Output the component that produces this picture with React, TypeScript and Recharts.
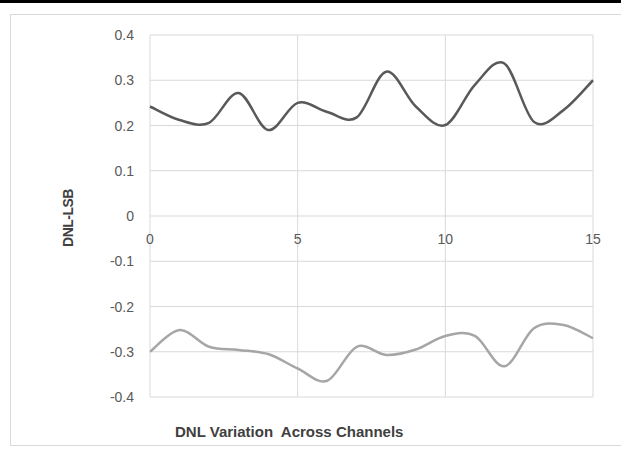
import React from 'react';
import { LineChart, Line, XAxis, YAxis, CartesianGrid, ReferenceLine } from 'recharts';

const channels = [0, 1, 2, 3, 4, 5, 6, 7, 8, 9, 10, 11, 12, 13, 14, 15];
const dnlMax = [0.242, 0.212, 0.206, 0.272, 0.19, 0.25, 0.23, 0.218, 0.319, 0.242, 0.201, 0.29, 0.337, 0.208, 0.234, 0.3];
const dnlMin = [-0.3, -0.252, -0.289, -0.296, -0.305, -0.337, -0.364, -0.289, -0.307, -0.295, -0.265, -0.265, -0.332, -0.248, -0.241, -0.27];
const xTicks = [0, 5, 10, 15];
const yTicks = [-0.4, -0.3, -0.2, -0.1, 0, 0.1, 0.2, 0.3, 0.4];

const data = channels.map((ch, i) => ({ ch, max: dnlMax[i], min: dnlMin[i] }));

const W = 621;
const H = 450;
const M = { top: 35, right: 28, bottom: 33, left: 90 };
const X_AXIS_H = 20;
const Y_AXIS_W = 60;
const PLOT_H = H - M.top - M.bottom - X_AXIS_H;
const FONT = 'Liberation Sans, Arial, sans-serif';

// Excel-style smoothed line (Catmull-Rom through the points)
const smooth = (context: any) => {
  let pts: number[][] = [];
  return {
    areaStart() {},
    areaEnd() {},
    lineStart() {
      pts = [];
    },
    point(x: number, y: number) {
      pts.push([+x, +y]);
    },
    lineEnd() {
      if (!pts.length) return;
      context.moveTo(pts[0][0], pts[0][1]);
      for (let i = 0; i < pts.length - 1; i++) {
        const p0 = pts[i - 1] || pts[i];
        const p1 = pts[i];
        const p2 = pts[i + 1];
        const p3 = pts[i + 2] || p2;
        context.bezierCurveTo(
          p1[0] + (p2[0] - p0[0]) / 6,
          p1[1] + (p2[1] - p0[1]) / 6,
          p2[0] - (p3[0] - p1[0]) / 6,
          p2[1] - (p3[1] - p1[1]) / 6,
          p2[0],
          p2[1]
        );
      }
    },
  };
};

// x labels sit just under the zero line, not at the bottom
const ZeroTick = ({ x, y, payload }: any) => (
  <text x={x} y={y - PLOT_H / 2 + 28} textAnchor="middle" fill="#595959" fontSize={14} fontFamily={FONT}>
    {payload.value}
  </text>
);

// y labels right-aligned 16px left of the plot
const YTick = ({ y, payload }: any) => (
  <text x={M.left + Y_AXIS_W - 16} y={y} dy={5} textAnchor="end" fill="#595959" fontSize={14} fontFamily={FONT}>
    {String(Math.round(payload.value * 10) / 10)}
  </text>
);

export default function App() {
  return (
    <div style={{ position: 'absolute', left: 0, top: 0, width: W, height: H, background: '#fff', overflow: 'hidden' }}>
      <div style={{ position: 'absolute', left: 0, top: 0, width: W, height: 3, background: '#000' }} />
      <div style={{ position: 'absolute', left: 10, top: 14, width: 700, height: 430, border: '1px solid #d9d9d9' }} />
      <div style={{ position: 'absolute', left: 0, top: 0 }}>
        <LineChart width={W} height={H} data={data} margin={M}>
          <CartesianGrid stroke="#d9d9d9" strokeWidth={1} horizontal={false} />
          {yTicks.map((t) => (
            <ReferenceLine key={t} y={t} stroke="#d9d9d9" strokeWidth={1} />
          ))}
          <XAxis
            dataKey="ch"
            type="number"
            domain={[0, 15]}
            ticks={xTicks}
            axisLine={false}
            tickLine={false}
            tickSize={0}
            tickMargin={0}
            height={X_AXIS_H}
            interval={0}
            tick={<ZeroTick />}
          />
          <YAxis
            type="number"
            domain={[-0.4, 0.4]}
            ticks={yTicks}
            width={Y_AXIS_W}
            axisLine={false}
            tickLine={false}
            interval={0}
            tick={<YTick />}
          />
          <Line dataKey="max" type={smooth as any} stroke="#595959" strokeWidth={2.5} dot={false} isAnimationActive={false} />
          <Line dataKey="min" type={smooth as any} stroke="#a6a6a6" strokeWidth={2.5} dot={false} isAnimationActive={false} />
        </LineChart>
      </div>
      <div
        style={{
          position: 'absolute',
          left: 68,
          top: 218,
          transform: 'translate(-50%, -50%) rotate(-90deg)',
          whiteSpace: 'nowrap',
          fontFamily: FONT,
          fontWeight: 'bold',
          fontSize: 14,
          letterSpacing: -0.5,
          lineHeight: '14px',
          color: '#404040',
        }}
      >
        DNL-LSB
      </div>
      <div
        style={{
          position: 'absolute',
          left: 175,
          top: 424,
          whiteSpace: 'pre',
          fontFamily: FONT,
          fontWeight: 'bold',
          fontSize: 15,
          lineHeight: '15px',
          color: '#404040',
        }}
      >
        DNL Variation  Across Channels
      </div>
    </div>
  );
}
